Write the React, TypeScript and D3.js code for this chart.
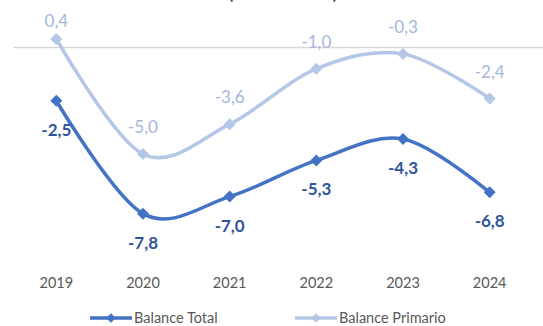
import React from "react";
import * as d3 from "d3";

const years = ["2019", "2020", "2021", "2022", "2023", "2024"];
const balanceTotal = [-2.5, -7.8, -7.0, -5.3, -4.3, -6.8];
const balancePrimario = [0.4, -5.0, -3.6, -1.0, -0.3, -2.4];
const seriesNames = ["Balance Total", "Balance Primario"];
const title = "(en % del PIB)";

const W = 543;
const H = 326;
const FONT = "Lato, 'Open Sans', sans-serif";
const C_TOTAL = "#4472C4";
const C_TOTAL_LBL = "#30559A";
const C_PRIM = "#B4C7E7";
const C_PRIM_LBL = "#A3B7DC";
const C_AXIS = "#595959";

const fmt = (v: number) => v.toFixed(1).replace(".", ",");

export default function App() {
  const x = d3.scalePoint<string>().domain(years).range([13, 533]).padding(0.5);
  const y = d3.scaleLinear().domain([-9, 1]).range([239.2, 26.2]);
  const line = d3
    .line<number>()
    .x((_, i) => x(years[i]) as number)
    .y((d) => y(d))
    .curve(d3.curveCatmullRom.alpha(0));
  const diamond = d3.symbol().type(d3.symbolSquare).size(72)();

  const series = [
    { name: seriesNames[0], values: balanceTotal, color: C_TOTAL, lbl: C_TOTAL_LBL, above: false, bold: true },
    { name: seriesNames[1], values: balancePrimario, color: C_PRIM, lbl: C_PRIM_LBL, above: true, bold: false },
  ];

  return (
    <svg width={W} height={H} style={{ position: "absolute", left: 0, top: 0, background: "#fff" }}>
      <text x={283} y={-1} textAnchor="middle" fontFamily={FONT} fontSize={18} fontWeight="bold" fill="#404040">
        {title}
      </text>
      <line x1={13} x2={W} y1={y(0)} y2={y(0)} stroke="#D9D9D9" strokeWidth={1.5} />
      {[...series].reverse().map((s) => (
        <g key={s.name}>
          <path d={line(s.values) || ""} fill="none" stroke={s.color} strokeWidth={3.5} strokeLinecap="round" />
          {s.values.map((v, i) => (
            <path
              key={i}
              d={diamond || ""}
              transform={`translate(${x(years[i])},${y(v)}) rotate(45)`}
              fill={s.color}
            />
          ))}
          {s.values.map((v, i) => {
            const py = y(v);
            const ly = s.above ? Math.max(py - 27, 21) : py + 29;
            return (
              <text
                key={"l" + i}
                x={x(years[i])}
                y={ly}
                dy="0.35em"
                textAnchor="middle"
                fontFamily={FONT}
                fontSize={17}
                fontWeight={s.bold ? "bold" : "normal"}
                fill={s.lbl}
              >
                {fmt(v)}
              </text>
            );
          })}
        </g>
      ))}
      {years.map((yr) => (
        <text key={yr} x={x(yr)} y={283} dy="0.35em" textAnchor="middle" fontFamily={FONT} fontSize={14.5} fill={C_AXIS}>
          {yr}
        </text>
      ))}
      {series.map((s, i) => {
        const lx = i === 0 ? 90 : 295;
        return (
          <g key={"leg" + s.name} transform={`translate(${lx},318)`}>
            <line x1={0} x2={42} y1={0} y2={0} stroke={s.color} strokeWidth={3.5} />
            <path d={diamond || ""} transform="translate(21,0) rotate(45) scale(0.8)" fill={s.color} />
            <text x={44} y={0} dy="0.35em" fontFamily={FONT} fontSize={14.5} fill={C_AXIS}>
              {s.name}
            </text>
          </g>
        );
      })}
    </svg>
  );
}
